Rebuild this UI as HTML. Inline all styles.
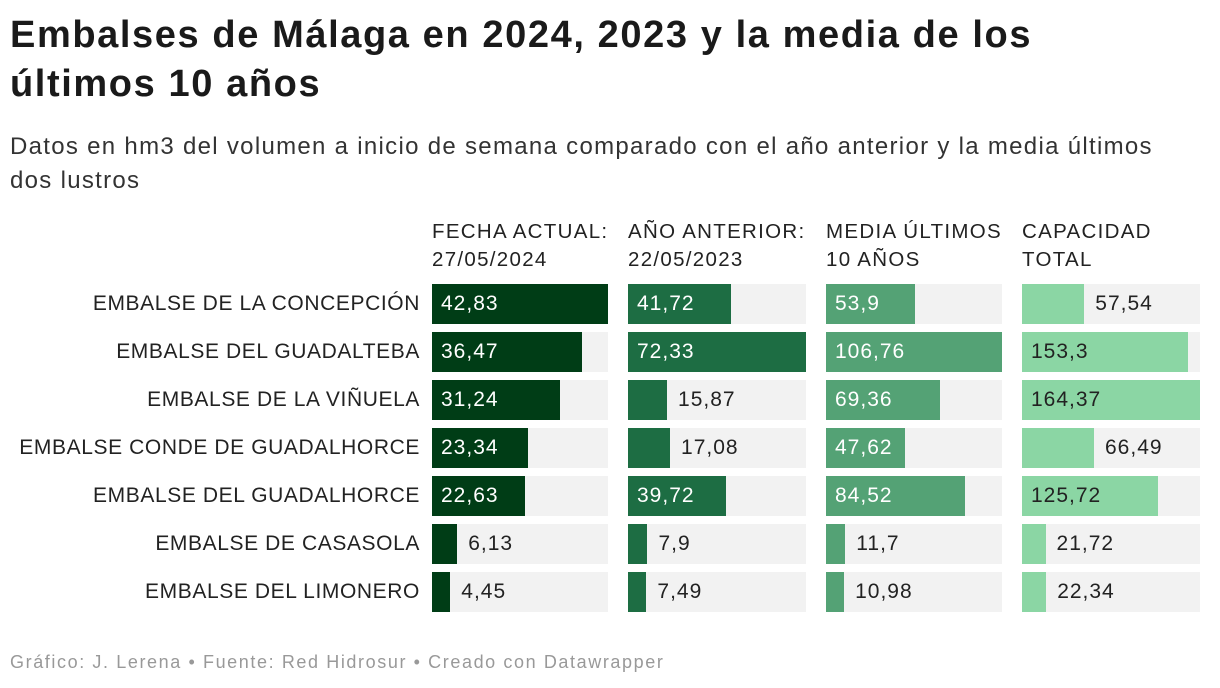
<!DOCTYPE html>
<html><head><meta charset="utf-8"><style>
body{margin:0;width:1220px;height:688px;background:#fff;font-family:"Liberation Sans",sans-serif;color:#222;position:relative;overflow:hidden}
.t{position:absolute;left:10px;top:11px;font-size:38px;letter-spacing:1.6px;font-weight:bold;line-height:49px;color:#1a1a1a;width:1100px}
.s{position:absolute;left:10px;top:130px;font-size:24px;letter-spacing:1.3px;line-height:34px;color:#333;width:1195px}
.h{position:absolute;top:218px;font-size:20.5px;letter-spacing:1.3px;line-height:28px;color:#222}
.f{position:absolute;left:10px;top:652px;font-size:18px;letter-spacing:1.6px;color:#999}
.lab{position:absolute;right:800px;font-size:21px;letter-spacing:0.6px;line-height:40px;text-align:right;white-space:nowrap}
.bg{position:absolute;height:40px;background:#f2f2f2}
.bar{position:absolute;height:40px}
.v{position:absolute;font-size:21px;letter-spacing:1px;line-height:40px;white-space:nowrap}
</style></head><body>
<div class="t">Embalses de Málaga en 2024, 2023 y la media de los últimos 10 años</div>
<div class="s">Datos en hm3 del volumen a inicio de semana comparado con el año anterior y la media últimos<br>dos lustros</div>
<div class="h" style="left:432px">FECHA ACTUAL:<br>27/05/2024</div>
<div class="h" style="left:628px">AÑO ANTERIOR:<br>22/05/2023</div>
<div class="h" style="left:826px">MEDIA ÚLTIMOS<br>10 AÑOS</div>
<div class="h" style="left:1022px">CAPACIDAD<br>TOTAL</div>
<div id="chart"></div>
<div class="f">Gráfico: J. Lerena • Fuente: Red Hidrosur • Creado con Datawrapper</div>
<script>
const categories=["EMBALSE DE LA CONCEPCIÓN","EMBALSE DEL GUADALTEBA","EMBALSE DE LA VIÑUELA","EMBALSE CONDE DE GUADALHORCE","EMBALSE DEL GUADALHORCE","EMBALSE DE CASASOLA","EMBALSE DEL LIMONERO"];
const actual=[42.83,36.47,31.24,23.34,22.63,6.13,4.45];
const anterior=[41.72,72.33,15.87,17.08,39.72,7.9,7.49];
const media=[53.9,106.76,69.36,47.62,84.52,11.7,10.98];
const capacidad=[57.54,153.3,164.37,66.49,125.72,21.72,22.34];
const cols=[{d:actual,x:432,w:176,c:"#003d16",tc:"#fff",n:"actual"},{d:anterior,x:628,w:178,c:"#1d6d43",tc:"#fff",n:"anterior"},{d:media,x:826,w:176,c:"#54a275",tc:"#fff",n:"media"},{d:capacidad,x:1022,w:178,c:"#8bd6a4",tc:"#222",n:"capacidad"}];
const root=document.getElementById('chart');
const fmt=v=>String(v).replace('.',',');
categories.forEach((cat,i)=>{
 const y=284+i*48;
 const l=document.createElement('div');l.className='lab';l.style.top=y+'px';l.textContent=cat;
 
 
 root.appendChild(l);
 cols.forEach(col=>{
  const mx=Math.max(...col.d);const v=col.d[i];const bw=v/mx*col.w;
  const bg=document.createElement('div');bg.className='bg';bg.style.cssText=`left:${col.x}px;top:${y}px;width:${col.w}px`;
  
  
  root.appendChild(bg);
  const b=document.createElement('div');b.className='bar';b.style.cssText=`left:${col.x}px;top:${y}px;width:${bw}px;background:${col.c}`;
  
  
  root.appendChild(b);
  const t=document.createElement('div');t.className='v';t.textContent=fmt(v);
  const inside=bw>75;
  t.style.top=y+'px';t.style.left=(inside?col.x+9:col.x+bw+11)+'px';t.style.color=inside?col.tc:'#222';
  
  
  root.appendChild(t);
 });
});
</script>
</body></html>
